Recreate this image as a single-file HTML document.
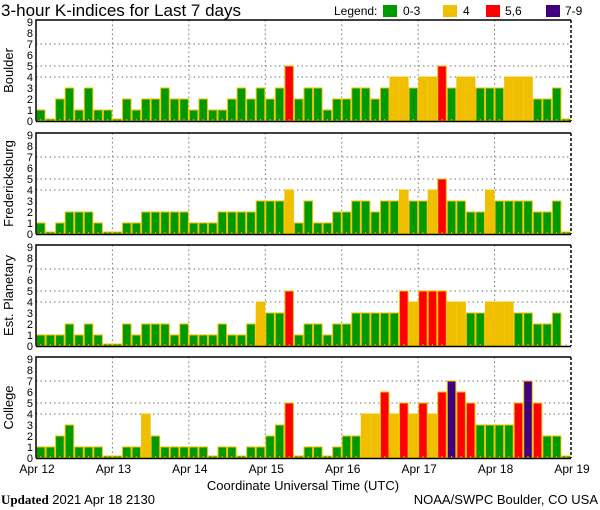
<!DOCTYPE html>
<html><head><meta charset="utf-8"><style>
body{margin:0;background:#fff;}
svg{display:block;font-family:"Liberation Sans",sans-serif;}
</style></head><body>
<svg id="c" width="600" height="510" viewBox="0 0 600 510">
<text x="1" y="16" font-size="17">3-hour K-indices for Last 7 days</text>
<g font-size="12">
<text x="334" y="15">Legend:</text>
<rect x="383" y="5" width="14" height="12" fill="#009900"/>
<text x="403" y="15">0-3</text>
<rect x="443" y="5" width="14" height="12" fill="#f0c000"/>
<text x="463" y="15">4</text>
<rect x="486" y="5" width="14" height="12" fill="#ff0000"/>
<text x="505" y="15">5,6</text>
<rect x="546" y="5" width="14" height="12" fill="#400080"/>
<text x="565" y="15">7-9</text>
</g>
<g id="panels"></g>
<g id="xlabels" font-size="12"></g>
<text x="303" y="490" font-size="13" text-anchor="middle">Coordinate Universal Time (UTC)</text>
<text x="1" y="504" font-size="13"><tspan font-weight="bold" font-family="Liberation Serif,serif">Updated</tspan> 2021 Apr 18 2130</text>
<text x="598" y="504" font-size="13" text-anchor="end">NOAA/SWPC Boulder, CO USA</text>
</svg>
<script>
const days = ["Apr 12","Apr 13","Apr 14","Apr 15","Apr 16","Apr 17","Apr 18","Apr 19"];
const yTicks = [0,1,2,3,4,5,6,7,8,9];
const stations = ["Boulder","Fredericksburg","Est. Planetary","College"];
const boulder = [1,0,2,3,1,3,1,1, 0,2,1,2,2,3,2,2, 1,2,1,1,2,3,2,3, 2,3,5,2,3,3,1,2, 2,3,3,2,3,4,4,3, 4,4,5,3,4,4,3,3, 3,4,4,4,2,2,3,0];
const fredericksburg = [1,0,1,2,2,2,1,0, 0,1,1,2,2,2,2,2, 1,1,1,2,2,2,2,3, 3,3,4,1,3,1,1,2, 2,3,3,2,3,3,4,3, 3,4,5,3,3,2,2,4, 3,3,3,3,2,2,3,0];
const planetary = [1,1,1,2,1,2,1,0, 0,2,1,2,2,2,1,2, 1,1,1,2,1,1,2,4, 3,3,5,1,2,2,1,2, 2,3,3,3,3,3,5,4, 5,5,5,4,4,3,3,4, 4,4,3,3,2,2,3,null];
const college = [1,1,2,3,1,1,1,0, 0,1,1,4,2,1,1,1, 1,1,0,1,1,0,1,1, 2,3,5,0,1,1,0,1, 2,2,4,4,6,4,5,4, 5,4,6,7,6,5,3,3, 3,3,5,7,5,2,2,0];
const seriesList = [boulder,fredericksburg,planetary,college];

const NS="http://www.w3.org/2000/svg";
const L=36,R=571,N=56;
const panelTops=[20,133,245,357];
const PH=101;
const bw=(R-L)/N;
function xPos(i){return L+i*bw;}
function yPos(top,v){return top+PH-v*(PH-2)/9;}
function color(v){return v<=3?"#009900":v===4?"#f0c000":v<=6?"#ff0000":"#400080";}
function mk(tag,attrs,parent){const e=document.createElementNS(NS,tag);for(const k in attrs)e.setAttribute(k,attrs[k]);parent.appendChild(e);return e;}
const panels=document.getElementById("panels");
seriesList.forEach((vals,p)=>{
  const top=panelTops[p],bot=top+PH;
  const g=mk("g",{},panels);
  
  
  [4,5,7].forEach(v=>{const ln=mk("line",{x1:L,x2:R,y1:yPos(top,v),y2:yPos(top,v),stroke:"#777","stroke-dasharray":"1.5,3"},g);
    
    });
  for(let d=1;d<7;d++){const x=xPos(d*8);const ln=mk("line",{x1:x,x2:x,y1:top,y2:bot,stroke:"#777","stroke-dasharray":"1.5,3"},g);
    
    }
  vals.forEach((v,i)=>{
    if(v===null)return;
    const x=xPos(i);let y=yPos(top,v);if(v===0)y=bot-2;
    const r=mk("rect",{x:x+0.5,y:y,width:bw-1,height:bot-y,fill:color(v),stroke:"#f0c000","stroke-width":1},g);
    
    
  });
  for(let i=0;i<N;i++){const t=mk("line",{x1:xPos(i)+bw/2,x2:xPos(i)+bw/2,y1:bot-2,y2:bot,stroke:"#f0c000"},g);
    
    }
  const fr=mk("path",{d:`M${L},${bot} L${L},${top} L${R},${top}`,fill:"none",stroke:"#000","stroke-width":1.5},g);
  
  
  const rf=mk("line",{x1:R,x2:R,y1:top,y2:bot,stroke:"#000","stroke-width":1.5,"stroke-dasharray":"3,2"},g);
  
  
  const bl=mk("line",{x1:L,x2:R,y1:bot+0.5,y2:bot+0.5,stroke:"#000","stroke-width":1.5},g);
  
  
  yTicks.forEach(v=>{const t=mk("text",{x:33,y:yPos(top,v)+4,"font-size":"11","text-anchor":"end"},g);t.textContent=v;
    
    });
  const lab=mk("text",{x:0,y:0,"font-size":"13","text-anchor":"middle",transform:`translate(13,${top+PH/2}) rotate(-90)`},g);
  lab.textContent=stations[p];
  
  
});
const xl=document.getElementById("xlabels");
days.forEach((d,i)=>{const t=mk("text",{x:xPos(i*8)+1,y:473,"text-anchor":"middle"},xl);t.textContent=d;
  
  });
</script>
</body></html>
